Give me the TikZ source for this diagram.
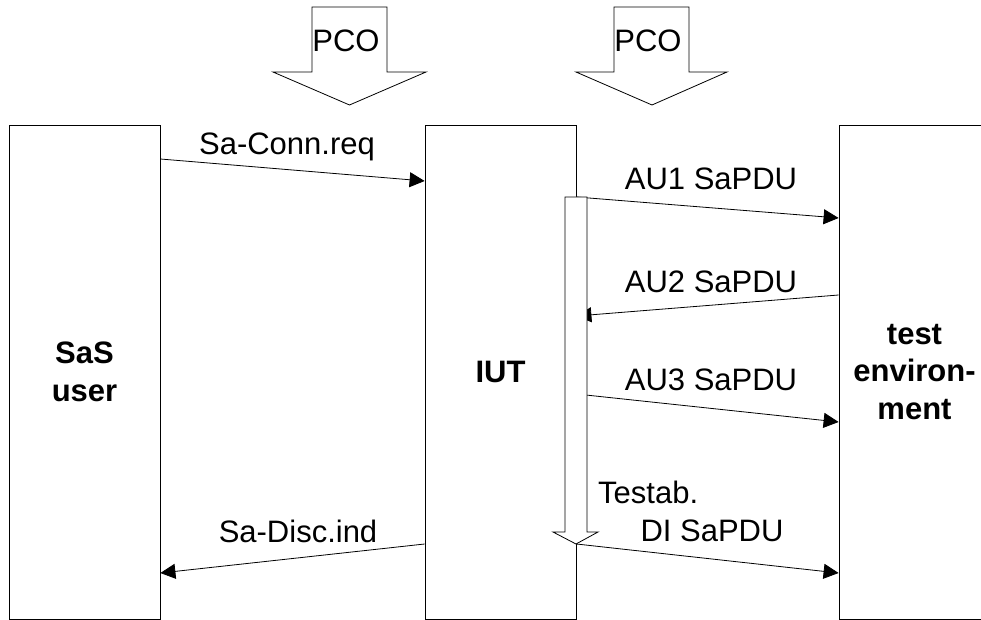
\documentclass[tikz,border=0pt]{standalone}
\usepackage{fontspec}
\setmainfont{Liberation Sans}
\usepackage{tikz}
\usetikzlibrary{arrows.meta,positioning,calc}

\begin{document}
\begin{tikzpicture}[x=1pt,y=-1pt,
        font=\fontsize{31}{37.5}\selectfont,
        entity/.style={draw, line width=0.8pt, minimum width=151pt, minimum height=494pt,
            inner sep=0pt, align=center, font=\fontsize{31}{37.5}\selectfont\bfseries},
        msg/.style={line width=0.8pt, -{Triangle[length=15pt,width=15pt]}},
        pco/.style={draw, line width=0.8pt, fill=white},
        lbl/.style={inner sep=0pt, anchor=base}]
    \useasboundingbox (0,0) rectangle (981,620);
    \clip (0,0) rectangle (981,620);

    % Entities
    \node[entity] (user) at (84.5,372) {SaS\\user};
    \node[entity] (iut) at (500.5,372) {IUT};
    \node[entity] (env) at (914.5,372) {test\\environ-\\ment};

    % Message levels
    \coordinate (a0) at (0,159);  \coordinate (a1) at (0,181);
    \coordinate (b0) at (0,197);  \coordinate (b1) at (0,218);
    \coordinate (c0) at (0,295);  \coordinate (c1) at (0,316);
    \coordinate (d0) at (0,394);  \coordinate (d1) at (0,422);
    \coordinate (e0) at (0,544);  \coordinate (e1) at (0,573);

    % Messages
    \draw[msg] (user.east |- a0) -- (iut.west |- a1);
    \draw[msg] (iut.east |- b0) -- (env.west |- b1);
    \draw[msg] (env.west |- c0) -- (iut.east |- c1);
    \draw[msg] (iut.east |- d0) -- (env.west |- d1);
    \draw[msg] (iut.east |- e0) -- (env.west |- e1);
    \draw[msg] (iut.west |- e0) -- (user.east |- e1);

    % Activation bar
    \draw[pco] (565,197) -- (587,197) -- (587,532) -- (598,532) -- (576,544)
        -- (553,532) -- (565,532) -- cycle;

    % PCOs
    \draw[pco] (312,7) -- (387,7) -- (387,72) -- (426,72) -- (349.5,105)
        -- (273,72) -- (312,72) -- cycle;
    \node[lbl] (pco1) at (346,52) {PCO};
    \draw[pco] (614,7) -- (689,7) -- (689,72) -- (727,72) -- (652,105)
        -- (576,72) -- (614,72) -- cycle;
    \node[lbl] (pco2) at (648,52) {PCO};

    % Labels
    \node[lbl] (lconn) at (287,155) {Sa-Conn.req};
    \node[lbl] (lau1) at (711,190) {AU1 SaPDU};
    \node[lbl] (lau2) at (711,292) {AU2 SaPDU};
    \node[lbl] (lau3) at (711,390) {AU3 SaPDU};
    \node[lbl, anchor=base west] (ltest) at (598,503) {Testab.};
    \node[lbl] (ldi) at (712,541) {DI SaPDU};
    \node[lbl] (ldisc) at (298,542) {Sa-Disc.ind};
\end{tikzpicture}
\end{document}
